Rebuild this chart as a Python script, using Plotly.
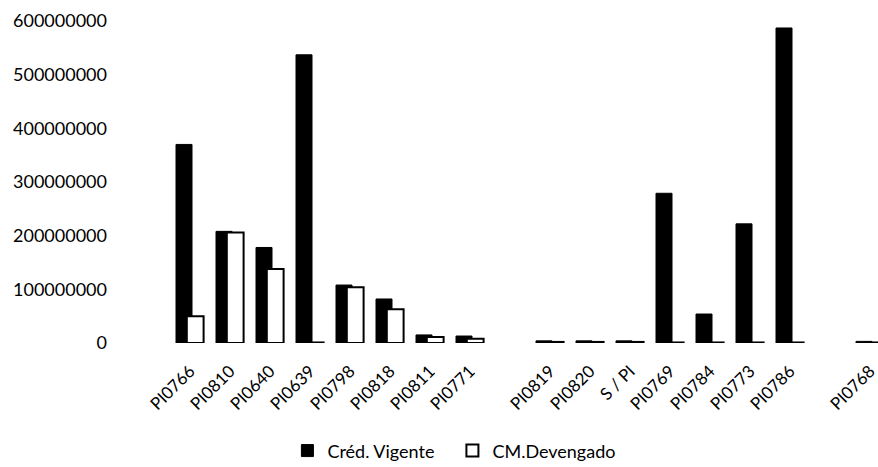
import plotly.graph_objects as go

# Budget lines (blank entries keep the empty slots on the axis)
categories = ["PI0766", "PI0810", "PI0640", "PI0639", "PI0798", "PI0818", "PI0811", "PI0771",
              " ", "PI0819", "PI0820", "S / PI", "PI0769", "PI0784", "PI0773", "PI0786",
              "  ", "PI0768"]
cred_vigente = [370e6, 208e6, 178e6, 537e6, 108e6, 82e6, 15e6, 13e6,
                None, 4e6, 4e6, 4e6, 279e6, 54e6, 222e6, 587e6,
                None, 3e6]
cm_devengado = [50e6, 206e6, 138e6, 1e6, 104e6, 63e6, 11e6, 8e6,
                None, 2e6, 2e6, 2e6, 1e6, 1e6, 1e6, 1e6,
                None, 1e6]
y_ticks = [0, 100e6, 200e6, 300e6, 400e6, 500e6, 600e6]

FONT = "Lato"

fig = go.Figure()
fig.add_trace(go.Bar(
    x=categories, y=cred_vigente, name="Créd. Vigente",
    marker=dict(color="black", line=dict(color="black", width=1)),
    width=0.4, offset=-0.35,
))
fig.add_trace(go.Bar(
    x=categories, y=cm_devengado, name="CM.Devengado",
    marker=dict(color="white", line=dict(color="black", width=2)),
    width=0.42, offset=-0.08,
))

fig.update_layout(
    width=878, height=467,
    margin=dict(l=108, r=0, t=21, b=124, autoexpand=False),
    paper_bgcolor="white", plot_bgcolor="white",
    barmode="overlay",
    font=dict(family=FONT, size=18, color="black"),
    showlegend=True,
    legend=dict(orientation="h", x=0.233, xanchor="left", y=-0.335, yanchor="middle",
                font=dict(family=FONT, size=18, color="black"),
                traceorder="normal", itemwidth=30, entrywidth=120),
    xaxis=dict(type="category", categoryorder="array", categoryarray=categories,
               range=[-2.05, 17.2], tickangle=-45, showgrid=False, showline=False,
               zeroline=False, ticks="", ticklabelstandoff=14, automargin=False,
               tickfont=dict(family=FONT, size=17)),
    yaxis=dict(range=[0, 600e6], tickvals=y_ticks, tickformat="d", showgrid=False,
               showline=False, zeroline=False, ticks="", automargin=False,
               tickfont=dict(family=FONT, size=18)),
)

fig.write_html("out.html")
